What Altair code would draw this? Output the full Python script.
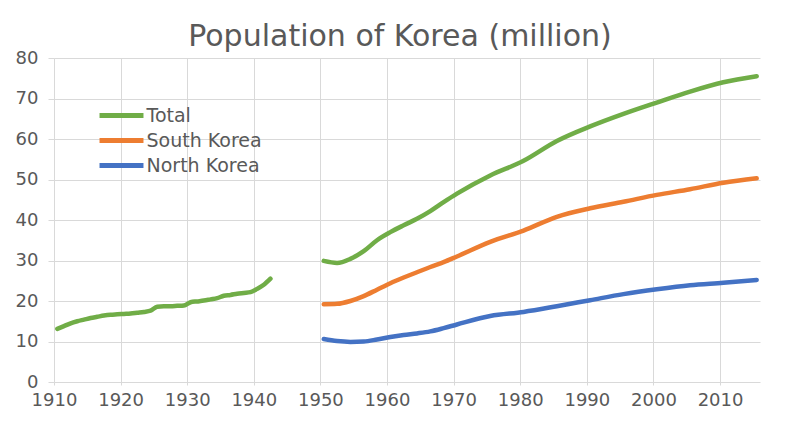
import altair as alt
import pandas as pd

# ---- data ----
total_early_years = list(range(1910, 1943))
total_early = [13.1, 13.8, 14.5, 15.0, 15.4, 15.8, 16.1, 16.4, 16.6, 16.7,
               16.8, 16.9, 17.1, 17.3, 17.6, 18.6, 18.7, 18.7, 18.8, 18.9,
               19.7, 19.9, 20.1, 20.4, 20.7, 21.3, 21.5, 21.8, 22.0, 22.2,
               23.0, 24.0, 25.5]

late_years = [1950, 1952, 1954, 1956, 1958, 1960, 1962, 1964, 1966, 1968,
              1970, 1975, 1980, 1985, 1990, 1995, 2000, 2005, 2010, 2015]
total_late = [29.9, 29.4, 30.4, 32.3, 35.0, 37.0, 38.7, 40.3, 42.2, 44.4,
              46.5, 51.0, 54.6, 59.5, 63.1, 66.2, 69.0, 71.7, 74.0, 75.5]
south = [19.2, 19.3, 20.0, 21.2, 22.8, 24.4, 25.8, 27.1, 28.4, 29.6,
         31.0, 34.6, 37.4, 40.8, 42.9, 44.5, 46.2, 47.6, 49.2, 50.3]
north = [10.6, 10.1, 9.9, 10.0, 10.5, 11.1, 11.6, 12.0, 12.5, 13.3,
         14.2, 16.3, 17.3, 18.7, 20.2, 21.7, 22.9, 23.9, 24.5, 25.2]

series_names = ["Total", "South Korea", "North Korea"]
series_colors = ["#70AD47", "#ED7D31", "#4472C4"]
x_ticks = list(range(1910, 2011, 10))
y_ticks = list(range(0, 81, 10))

rows = []
for y, v in zip(total_early_years, total_early):
    rows.append({"year": y, "value": v, "series": "Total", "seg": "early"})
for y, v in zip(late_years, total_late):
    rows.append({"year": y, "value": v, "series": "Total", "seg": "late"})
for y, v in zip(late_years, south):
    rows.append({"year": y, "value": v, "series": "South Korea", "seg": "late"})
for y, v in zip(late_years, north):
    rows.append({"year": y, "value": v, "series": "North Korea", "seg": "late"})
df = pd.DataFrame(rows)
# category-axis placement: each year sits in the middle of its slot
df["pos"] = df["year"] + 0.5

grey = "#595959"
grid = "#D9D9D9"
font = "DejaVu Sans"

chart = alt.Chart(df).mark_line(
    strokeWidth=4.5, interpolate="monotone", strokeCap="round", strokeJoin="round"
).encode(
    x=alt.X("pos:Q",
            scale=alt.Scale(domain=[1910, 2016], nice=False, zero=False),
            axis=alt.Axis(values=x_ticks, format="d", title=None,
                          labelFontSize=18, labelColor=grey, labelFont=font,
                          labelPadding=6, tickSize=3, tickColor=grid,
                          domain=False, gridColor=grid, labelFlush=False)),
    y=alt.Y("value:Q",
            scale=alt.Scale(domain=[0, 80], nice=False),
            axis=alt.Axis(values=y_ticks, title=None,
                          labelFontSize=18, labelColor=grey, labelFont=font,
                          labelPadding=10, tickSize=6, tickColor=grid,
                          domain=False, gridColor=grid)),
    color=alt.Color("series:N",
                    scale=alt.Scale(domain=series_names, range=series_colors),
                    legend=alt.Legend(title=None, orient="none", legendX=58, legendY=48,
                                      symbolType="M-3.14,0H3.14", symbolSize=196,
                                      symbolStrokeWidth=5, labelFontSize=19,
                                      labelColor=grey, labelFont=font,
                                      rowPadding=4, labelOffset=15.5)),
    detail="seg:N",
).properties(
    width=706, height=324,
    title=alt.Title("Population of Korea (million)", fontSize=30, color=grey,
                    font=font, fontWeight="normal", offset=-3, dx=-7),
    autosize=alt.AutoSizeParams(type="none"),
    padding={"left": 46, "top": 50, "right": 20, "bottom": 30},
).configure_view(stroke=None).configure_axis(gridWidth=1)

chart.save("out.html", embed_options={"renderer": "svg", "actions": False})
